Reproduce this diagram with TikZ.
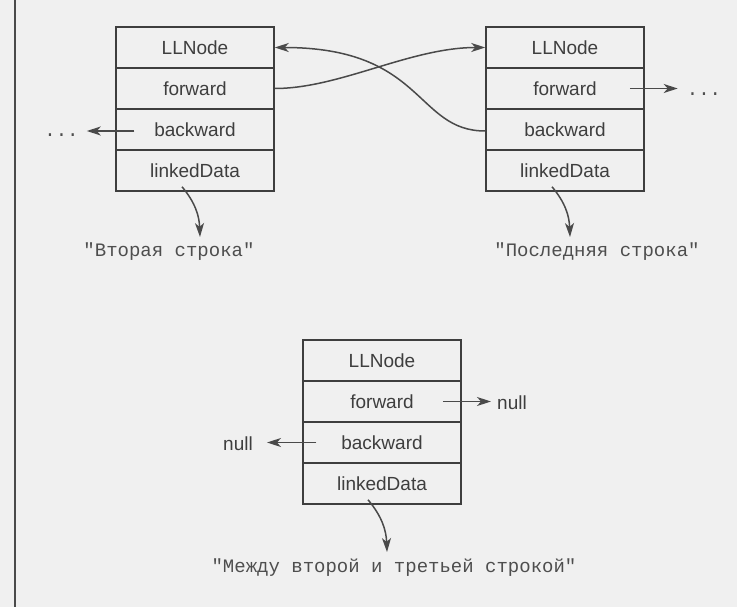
\documentclass[tikz,border=0pt]{standalone}
\usepackage{fontspec}
\setmainfont{Liberation Sans}
\newfontfamily\monofnt{Liberation Mono}
\usetikzlibrary{arrows.meta}
\definecolor{pagebg}{HTML}{F0F0F0}
\definecolor{ink}{HTML}{3E3E3E}
\definecolor{lineink}{HTML}{4A4A4A}
\definecolor{labink}{HTML}{4E4E4E}
\tikzset{
  cell/.style={draw=ink, line width=1.5bp, minimum width=158bp, minimum height=41bp,
    inner sep=0pt, text=ink, font=\fontsize{19bp}{22bp}\selectfont},
  arr/.style={draw=lineink, line width=1.5bp, -{Stealth[length=14bp,width=9bp,inset=4bp]}},
  lab/.style={text=labink, font=\monofnt\fontsize{19bp}{22bp}\selectfont, inner sep=0pt, anchor=base},
  dotlab/.style={text=labink, font=\monofnt\fontsize{19bp}{22bp}\selectfont, inner sep=0pt, anchor=base},
  nulllab/.style={text=ink, font=\fontsize{19bp}{22bp}\selectfont, inner sep=0pt, anchor=west}
}
\begin{document}
\begin{tikzpicture}[x=1bp,y=-1bp]
\fill[pagebg] (0,0) rectangle (737,607);
\useasboundingbox (0,0) rectangle (737,607);
\draw[draw=lineink, line width=2bp] (15,0) -- (15,607);

% Box 1
\node[cell] (a1) at (195,47.5) {LLNode};
\node[cell] (a2) at (195,88.5) {forward};
\node[cell] (a3) at (195,129.5) {backward};
\node[cell] (a4) at (195,170.5) {linkedData};
% Box 2
\node[cell] (b1) at (565,47.5) {LLNode};
\node[cell] (b2) at (565,88.5) {forward};
\node[cell] (b3) at (565,129.5) {backward};
\node[cell] (b4) at (565,170.5) {linkedData};
% Box 3
\node[cell] (c1) at (382,360.5) {LLNode};
\node[cell] (c2) at (382,401.5) {forward};
\node[cell] (c3) at (382,442.5) {backward};
\node[cell] (c4) at (382,483.5) {linkedData};

% labels
\node[lab] (l1) at (169,256) {"Вторая строка"};
\node[lab] (l2) at (597,256) {"Последняя строка"};
\node[lab] (l3) at (394,572) {"Между второй и третьей строкой"};
\node[dotlab] (d1) at (61.5,137) {...};
\node[dotlab] (d2) at (704,96) {...};
\node[nulllab] (n1) at (497,403) {null};
\node[nulllab] (n2) at (223,444) {null};

% crossing links
\draw[arr] (a2.east) .. controls +(65,0) and +(-75,0) .. (b1.west);
\draw[arr] ([yshift=-1.5bp]b3.west) .. controls +(-70,0) and +(150,0) .. (a1.east);

% side links
\draw[arr, shorten >=8bp] ([xshift=19bp,yshift=-1.5bp]a3.west) -- ([yshift=-1.5bp]a3.west -| d1.east);
\draw[arr, shorten >=9bp] ([xshift=-15bp]b2.east) -- (b2.east -| d2.west);
\draw[arr, shorten >=6bp] ([xshift=-19bp]c2.east) -- (c2.east -| n1.west);
\draw[arr, shorten >=14bp] ([xshift=14bp]c3.west) -- (c3.west -| n2.east);

% data links
\coordinate (t1) at (200,237);
\coordinate (t2) at (570,237);
\coordinate (t3) at (387,552);
\draw[arr] ([xshift=-13bp,yshift=5bp]a4.south) to[out=-50,in=92] (t1);
\draw[arr] ([xshift=-13bp,yshift=5bp]b4.south) to[out=-50,in=92] (t2);
\draw[arr] ([xshift=-14bp,yshift=5bp]c4.south) to[out=-50,in=92] (t3);
\end{tikzpicture}
\end{document}
